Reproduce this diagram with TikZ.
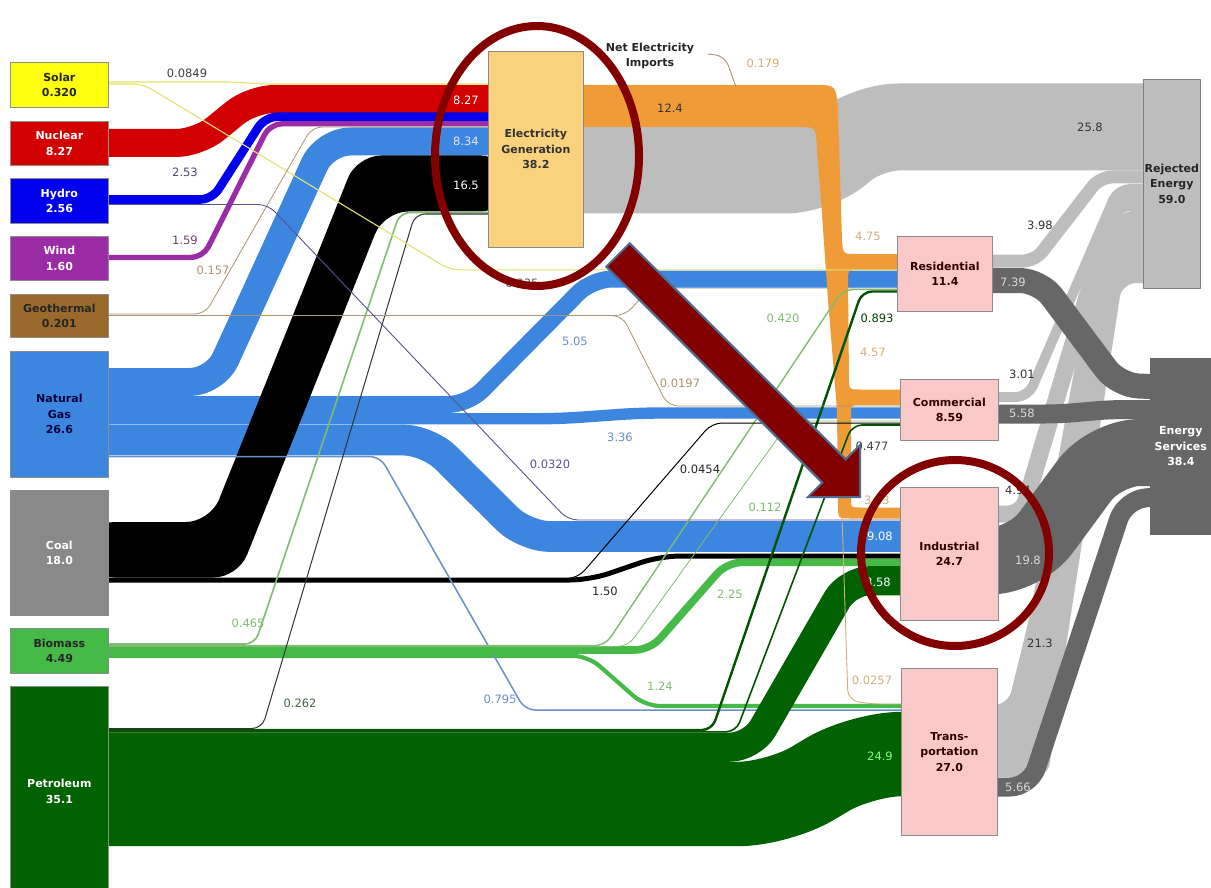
\documentclass[tikz,border=0pt]{standalone}
\usepackage{fontspec}
\setmainfont{DejaVu Sans}
\usetikzlibrary{calc}
\definecolor{cSolar}{HTML}{FFFF10}
\definecolor{cSolLine}{HTML}{E2E270}
\definecolor{cNuc}{HTML}{D20000}
\definecolor{cHyd}{HTML}{0000EE}
\definecolor{cWind}{HTML}{9A2DA6}
\definecolor{cGeo}{HTML}{9A6A2C}
\definecolor{cNG}{HTML}{3D86DF}
\definecolor{cCoal}{HTML}{898989}
\definecolor{cBio}{HTML}{46BA46}
\definecolor{cPet}{HTML}{006200}
\definecolor{cElec}{HTML}{FAD27E}
\definecolor{cOr}{HTML}{EE9B38}
\definecolor{cRej}{HTML}{BDBDBD}
\definecolor{cSrv}{HTML}{676767}
\definecolor{cPink}{HTML}{F9C9C9}
\definecolor{cMaroon}{HTML}{820000}
\definecolor{cArrEdge}{HTML}{4F6A90}
\definecolor{cTan}{HTML}{A8946E}
\definecolor{cLtOr}{HTML}{D2AE78}
\definecolor{cLtGr}{HTML}{80BC70}
\definecolor{cSlate}{HTML}{6A8FC6}
\definecolor{cPurpL}{HTML}{5C5090}
\begin{document}
\begin{tikzpicture}[x=1pt,y=-1pt,line cap=butt,line join=round,
  box/.style={draw=black!45,line width=0.7pt,anchor=north west,inner sep=0pt,align=center,font=\bfseries\fontsize{11}{15.5}\selectfont},
  lbl/.style={inner sep=0pt,font=\fontsize{11.5}{13}\selectfont},
  tl/.style={line width=#1,rounded corners=10pt},
  tl/.default=1pt]
\useasboundingbox (0,0) rectangle (1211,888);
\fill[white] (0,0) rectangle (1211,888);

% ---------- rejected energy (light gray) ----------
\draw[cRej,line width=87pt,rounded corners=30pt] (565,170) -- (815,170) -- (868,127) -- (1165,127);
\draw[cRej,line width=13pt,rounded corners=12pt] (975,261) -- (1035,261) -- (1100,177) -- (1165,177);
\draw[cRej,line width=10pt,rounded corners=12pt] (975,397) -- (1028,397) -- (1118,189) -- (1165,189);
\draw[cRej,line width=17pt,rounded corners=14pt] (975,514) -- (1022,514) -- (1115,203) -- (1165,202);
\fill[cRej,rounded corners=14pt] (975,705) -- (1008,705) -- (1030,615) -- (1095,255) -- (1120,211) -- (1165,211) -- (1165,283) -- (1122,283) -- (1067,640) -- (1048,777) -- (975,777) -- cycle;

% ---------- energy services (dark gray) ----------
\draw[cSrv,line width=25pt,rounded corners=20pt] (975,280.5) -- (1040,280.5) -- (1118,385) -- (1170,387.5);
\draw[cSrv,line width=19pt,rounded corners=15pt] (975,414) -- (1060,414) -- (1110,409.5) -- (1170,409.5);
\draw[cSrv,line width=67pt,rounded corners=35pt] (975,561) -- (1025,561) -- (1105,452.5) -- (1170,452.5);
\draw[cSrv,line width=19pt,rounded corners=20pt] (975,787) -- (1030,787) -- (1125,500) -- (1170,495.5);

% ---------- sources to electricity ----------
\draw[cNuc,line width=28pt,rounded corners=22pt] (90,143) -- (198,143) -- (252,99) -- (505,99);
\draw[cHyd,line width=8.6pt,rounded corners=12pt] (90,199.5) -- (212,199.5) -- (265,116.8) -- (505,116.8);
\draw[cWind,line width=5.4pt,rounded corners=12pt] (90,257.5) -- (203,257.5) -- (270,123.8) -- (505,123.8);

% hidden geothermal stub to residential
\draw[cTan,tl=0.8pt] (600,315.5) -- (625,315.5) -- (650,288) -- (915,288);

% ---------- natural gas ----------
\draw[cNG,line width=28pt,rounded corners=25pt] (90,382) -- (215,382) -- (325,141.5) -- (505,141.5);
\draw[cNG,line width=17pt,rounded corners=20pt] (90,404.5) -- (468,404.5) -- (592,279) -- (915,279);
\draw[cNG,line width=11.4pt,rounded corners=20pt] (90,418.7) -- (560,418.7) -- (640,413) -- (915,413);
\draw[cNG,line width=30.8pt,rounded corners=25pt] (90,440) -- (428,440) -- (525,536.5) -- (915,536.5);

% ---------- electricity out (orange) ----------
\fill[cOr] (560,85) -- (815,85) .. controls (836,85) .. (838,110) -- (842,240) .. controls (843,254) .. (856,254) -- (915,254) -- (915,270) -- (858,270) .. controls (848,270) .. (848,280) -- (849,380) .. controls (849,389.5) .. (860,389.5) -- (915,389.5) -- (915,405) -- (860,405) .. controls (851,405) .. (851,414) -- (851,500) .. controls (851,507.5) .. (860,507.5) -- (915,507.5) -- (915,518.5) -- (850,518.5) .. controls (838,518.5) .. (838,505) -- (837,410) -- (828,300) -- (821,200) -- (817,150) .. controls (816,127) .. (800,127) -- (560,127) -- cycle;

% ---------- coal ----------
\fill[black,rounded corners=24pt] (90,522) -- (210,522) -- (357,155.5) -- (505,155.5) -- (505,211.5) -- (384,211.5) -- (238,577.5) -- (90,577.5) -- cycle;
\draw[black,line width=5pt,rounded corners=20pt] (90,580) -- (590,580) -- (660,556) -- (915,556);

% ---------- biomass ----------
\draw[cBio,line width=4.2pt,rounded corners=15pt] (90,655.9) -- (588,655.9) -- (645,706) -- (915,706);
\draw[cSlate,tl=1.5pt] (90,456.5) -- (380,456.5) -- (525,710) -- (915,710);
\draw[cBio,line width=7.6pt,rounded corners=15pt] (90,650) -- (650,650) -- (727,562.3) -- (915,562.3);

% ---------- petroleum ----------
\draw[cPet,line width=29.1pt,rounded corners=22pt] (90,747.2) -- (752,747.2) -- (848,580.7) -- (915,580.7);
\draw[cPet,line width=84.4pt,rounded corners=40pt] (90,804) -- (778,804) -- (862,754) -- (915,754);

% ---------- thin flows ----------
\draw[cLtGr,tl=1.6pt] (90,644) -- (255,644) -- (400,212.5) -- (505,212.5);
\draw[cLtGr,tl=1.4pt] (90,645.6) -- (605,645.6) -- (843,289.5) -- (915,289.5);
\draw[cLtGr,tl=0.8pt] (90,646.4) -- (628,646.4) -- (790,421) -- (915,421);
\draw[black!80,tl=1pt] (90,728.5) -- (262,728.5) -- (415,214) -- (505,214);
\draw[cPet!85!black,tl=2.4pt] (90,730) -- (712,730) -- (862,291.5) -- (915,291.5);
\draw[cPet!85!black,tl=1.6pt] (90,731.8) -- (736,731.8) -- (852,425) -- (915,425);
\draw[black,tl=1pt] (540,580) -- (578,578) -- (712,423) -- (915,423);
\draw[cSolLine,tl=1.1pt] (90,82) -- (235,82) -- (262,84) -- (505,84);
\draw[cSolLine,tl=1.1pt] (90,84) -- (143,84) -- (450,269.8) -- (915,269.8);
\draw[cTan,tl=0.8pt] (90,314) -- (205,314) -- (312,127) -- (505,127);
\draw[cTan,tl=0.8pt] (90,315.5) -- (622,315.5) -- (668,406) -- (915,406);
\draw[cPurpL,tl=0.9pt] (90,204.5) -- (268,204.5) -- (568,520) -- (915,520);
\draw[cLtOr,tl=0.9pt] (842,515) -- (848,700) -- (870,704) -- (915,704);

% ---------- boxes ----------
\node[box,fill=cSolar,minimum width=98pt,minimum height=45pt,text=black!85] (solar) at (10,62) {Solar\\0.320};
\node[box,fill=cNuc,minimum width=98pt,minimum height=44pt,text=white] (nuclear) at (10,121) {Nuclear\\8.27};
\node[box,fill=cHyd,minimum width=98pt,minimum height=45pt,text=white] (hydro) at (10,178) {Hydro\\2.56};
\node[box,fill=cWind,minimum width=98pt,minimum height=44pt,text=white] (wind) at (10,236) {Wind\\1.60};
\node[box,fill=cGeo,minimum width=98pt,minimum height=43pt,text=black!85] (geo) at (10,294) {Geothermal\\0.201};
\node[box,fill=cNG,minimum width=98pt,minimum height=126pt,text=blue!25!black] (ng) at (10,351) {Natural\\Gas\\26.6};
\node[box,fill=cCoal,minimum width=98pt,minimum height=125pt,text=white] (coal) at (10,490) {Coal\\18.0};
\node[box,fill=cBio,minimum width=98pt,minimum height=45pt,text=black!85] (bio) at (10,628) {Biomass\\4.49};
\node[box,fill=cPet,minimum width=98pt,minimum height=210pt,text=white] (pet) at (10,686) {Petroleum\\35.1};
\node[box,fill=cElec,minimum width=95pt,minimum height=196pt,text=black!80] (elec) at (488,51) {Electricity\\Generation\\38.2};
\node[box,fill=cPink,minimum width=95pt,minimum height=75pt,text=red!20!black] (res) at (897,236) {Residential\\11.4};
\node[box,fill=cPink,minimum width=98pt,minimum height=61pt,text=red!20!black] (comm) at (900,379) {Commercial\\8.59};
\node[box,fill=cPink,minimum width=98pt,minimum height=133pt,text=red!20!black] (ind) at (900,487) {Industrial\\24.7};
\node[box,fill=cPink,minimum width=96pt,minimum height=167pt,text=red!20!black] (trans) at (901,668) {Trans-\\portation\\27.0};
\node[box,fill=cRej,draw=black!50,minimum width=57pt,minimum height=209pt,text=black!85] (rej) at (1143,79) {Rejected\\Energy\\59.0};
\node[box,fill=cSrv,draw=black!60,minimum width=61pt,minimum height=176pt,text=white] (srv) at (1150,358) {Energy\\Services\\38.4};

\node[align=center,inner sep=0pt,text=black!85,font=\bfseries\fontsize{11}{15}\selectfont] (imports) at (650,56) {Net Electricity\\Imports};
\draw[cTan,tl=0.9pt] (708,54) -- (725,56) -- (736,87);

% ---------- flow labels ----------
\node[lbl,text=black!75] (l1) at (187,73) {0.0849};
\node[lbl,text=blue!20!black!70] (l2) at (185,172) {2.53};
\node[lbl,text=violet!40!black!75] (l3) at (185,240) {1.59};
\node[lbl,text=cTan] (l4) at (213,270) {0.157};
\node[lbl,text=white] (l5) at (466,100) {8.27};
\node[lbl,text=white!90!blue] (l6) at (466,141) {8.34};
\node[lbl,text=white] (l7) at (466,185) {16.5};
\node[lbl,text=black!80] (l8) at (670,108) {12.4};
\node[lbl,text=cLtOr] (l9) at (763,63) {0.179};
\node[lbl,text=black!80] (l10) at (1090,127) {25.8};
\node[lbl,text=black!80] (l11) at (1040,225) {3.98};
\node[lbl,text=cLtOr] (l12) at (868,236) {4.75};
\node[lbl,text=black!15] (l13) at (1013,282) {7.39};
\node[lbl,text=cLtGr] (l14) at (783,318) {0.420};
\node[lbl,text=green!25!black] (l15) at (877,318) {0.893};
\node[lbl,text=black!65] (l16) at (522,283) {0.235};
\node[lbl,text=cSlate] (l17) at (575,341) {5.05};
\node[lbl,text=cTan] (l18) at (680,383) {0.0197};
\node[lbl,text=cLtOr] (l19) at (873,352) {4.57};
\node[lbl,text=black!80] (l20) at (1022,374) {3.01};
\node[lbl,text=black!15] (l21) at (1022,413) {5.58};
\node[lbl,text=cSlate] (l22) at (620,437) {3.36};
\node[lbl,text=cPurpL] (l23) at (550,464) {0.0320};
\node[lbl,text=black!85] (l24) at (700,469) {0.0454};
\node[lbl,text=black!75] (l25) at (872,446) {0.477};
\node[lbl,text=cLtOr] (l26) at (877,500) {3.23};
\node[lbl,text=black!80] (l27) at (1018,490) {4.94};
\node[lbl,text=cLtGr] (l28) at (765,507) {0.112};
\node[lbl,text=white] (l29) at (880,536) {9.08};
\node[lbl,text=black!15] (l30) at (1028,560) {19.8};
\node[lbl,text=black!85] (l31) at (605,591) {1.50};
\node[lbl,text=white] (l32) at (878,582) {8.58};
\node[lbl,text=cLtGr] (l33) at (730,594) {2.25};
\node[lbl,text=cLtGr] (l34) at (248,623) {0.465};
\node[lbl,text=black!80] (l35) at (1040,643) {21.3};
\node[lbl,text=cLtGr] (l36) at (660,686) {1.24};
\node[lbl,text=cLtOr] (l37) at (872,680) {0.0257};
\node[lbl,text=green!20!black!75] (l38) at (300,703) {0.262};
\node[lbl,text=cSlate] (l39) at (500,699) {0.795};
\node[lbl,text=green!50!white] (l40) at (880,756) {24.9};
\node[lbl,text=black!15] (l41) at (1018,787) {5.66};

% ---------- annotations ----------
\draw[cMaroon,line width=8pt] (537,156) ellipse [x radius=102pt,y radius=130pt];
\draw[cMaroon,line width=8pt] (955,553) ellipse [x radius=94pt,y radius=93pt];
\filldraw[fill=cMaroon,draw=cArrEdge,line width=2pt,line join=miter] (629.7,243.3) -- (845.7,459.3) -- (860.2,444.8) -- (860,497) -- (807.8,497.2) -- (822.3,482.7) -- (606.3,266.7) -- cycle;
\end{tikzpicture}
\end{document}
